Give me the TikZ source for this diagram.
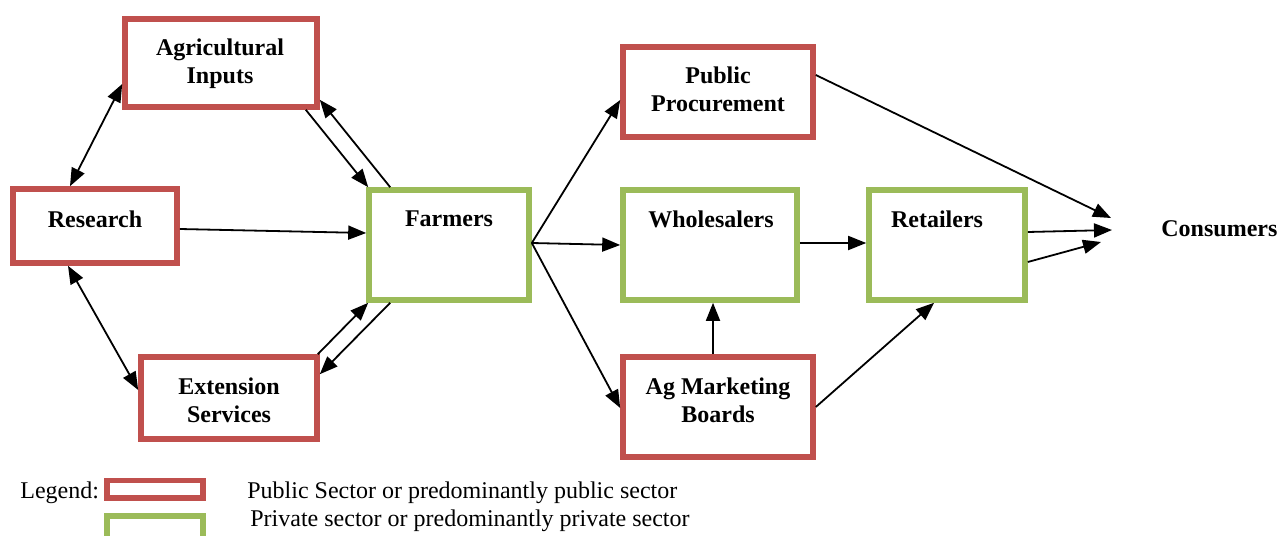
\documentclass[tikz,border=0pt]{standalone}
\usepackage{fontspec}
\setmainfont{Liberation Serif}
\usetikzlibrary{arrows.meta,calc,positioning}
\definecolor{pubred}{HTML}{C0504D}
\definecolor{privgreen}{HTML}{9BBB59}

\begin{document}
\begin{tikzpicture}[x=0.5pt,y=-0.5pt,
    pub/.style={draw=pubred,line width=2.8pt,inner sep=0pt},
    priv/.style={draw=privgreen,line width=2.8pt,inner sep=0pt},
    lbl/.style={font=\fontsize{12}{14}\selectfont\bfseries,align=center,inner sep=0pt},
    legtxt/.style={font=\fontsize{12}{14}\selectfont,anchor=west,inner sep=0pt},
    arr/.style={-{Triangle[length=9pt,width=7pt]},line width=0.9pt},
    darr/.style={{Triangle[length=9pt,width=7pt]}-{Triangle[length=9pt,width=7pt]},line width=0.9pt}]
    \useasboundingbox (0,0) rectangle (1278,535);
    \clip (0,0) rectangle (1278,535);
    % boxes
    \node[pub,minimum width=96pt,minimum height=44pt] (inp) at (221,63) {};
    \node[pub,minimum width=82pt,minimum height=37pt] (res) at (95,226) {};
    \node[pub,minimum width=88pt,minimum height=41pt] (ext) at (229,398) {};
    \node[priv,minimum width=80pt,minimum height=55pt] (farm) at (449,245) {};
    \node[pub,minimum width=95pt,minimum height=45pt] (pp) at (718,92) {};
    \node[priv,minimum width=87pt,minimum height=55pt] (whole) at (710,245) {};
    \node[pub,minimum width=95pt,minimum height=50pt] (amb) at (718,407) {};
    \node[priv,minimum width=78pt,minimum height=55pt] (ret) at (947,245) {};
    % box texts
    \node[lbl] (inp-t) at (220,64) {Agricultural\\Inputs};
    \node[lbl] (res-t) at (95,219) {Research};
    \node[lbl] (ext-t) at (229,400) {Extension\\Services};
    \node[lbl] (farm-t) at (449,219) {Farmers};
    \node[lbl] (pp-t) at (718,89) {Public\\Procurement};
    \node[lbl] (whole-t) at (711,219) {Wholesalers};
    \node[lbl] (amb-t) at (718,400) {Ag Marketing\\Boards};
    \node[lbl] (ret-t) at (937,219) {Retailers};
    \node[lbl,anchor=west] (cons) at (1161,229) {Consumers};
    % research links
    \draw[darr] ($(res.north)+(-25,0)$) -- ($(inp.west)+(0,21)$);
    \draw[darr] ($(res.south)+(-27,0)$) -- ($(ext.west)+(0,-8)$);
    \draw[arr] ($(res.east)+(0,3)$) -- ($(farm.west)+(0,-12)$);
    % inputs and extension to and from farmers
    \draw[arr] ($(inp.south east)+(-14,0)$) -- ($(farm.north west)+(2,0)$);
    \draw[arr] ($(farm.north west)+(24,0)$) -- ($(inp.south east)+(0,-10)$);
    \draw[arr] ($(ext.north east)+(-2,0)$) -- ($(farm.south west)+(2,0)$);
    \draw[arr] ($(farm.south west)+(24,0)$) -- ($(ext.north east)+(0,20)$);
    % farmers to markets
    \draw[arr] ($(farm.east)+(0,-2)$) -- ($(pp.west)+(0,8)$);
    \draw[arr] ($(farm.east)+(0,-2)$) -- (whole.west);
    \draw[arr] ($(farm.east)+(0,-2)$) -- ($(amb.west)+(0,1)$);
    \draw[arr] ($(whole.east)+(0,-2)$) -- ($(ret.west)+(0,-2)$);
    \draw[arr] ($(amb.north)+(-5,0)$) -- ($(whole.south)+(3,0)$);
    \draw[arr] (amb.east) -- ($(ret.south)+(-13,0)$);
    % to consumers
    \draw[arr] ($(pp.east)+(0,-17)$) -- ($(cons.west)+(-50,-11)$);
    \draw[arr] ($(ret.east)+(0,-13)$) -- ($(cons.west)+(-49,1)$);
    \draw[arr] ($(ret.east)+(0,17)$) -- ($(cons.west)+(-60,13)$);
    % legend
    \node[legtxt] (leg) at (20,493) {Legend:};
    \node[pub,minimum width=48pt,minimum height=8.7pt] (legpub) at (155,489) {};
    \node[priv,minimum width=48pt,minimum height=14pt] (legpriv) at (155,530) {};
    \node[legtxt] (legpub-t) at (247,493) {Public Sector or predominantly public sector};
    \node[legtxt] (legpriv-t) at (250,521) {Private sector or predominantly private sector};
\end{tikzpicture}
\end{document}
